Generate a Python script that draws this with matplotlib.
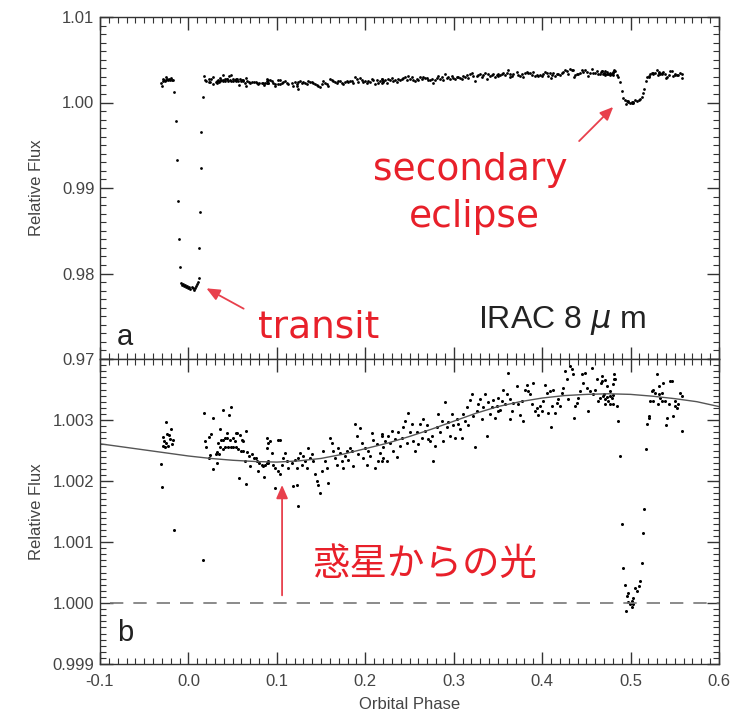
import matplotlib
matplotlib.use('Agg')
import matplotlib.pyplot as plt
from matplotlib.ticker import MultipleLocator, FixedLocator, FixedFormatter

plt.rcParams['font.family'] = ['Liberation Sans', 'DejaVu Sans']

# ---------------- data (orbital phase, relative flux) ----------------
pre_transit = [(-0.0310, 1.00228), (-0.0302, 1.00190), (-0.0290, 1.00272), (-0.0284, 1.00257),
               (-0.0275, 1.00265), (-0.0265, 1.00255), (-0.0257, 1.00297), (-0.0248, 1.00262),
               (-0.0239, 1.00277), (-0.0228, 1.00258), (-0.0218, 1.00275), (-0.0208, 1.00269),
               (-0.0200, 1.00286), (-0.0189, 1.00260), (-0.0178, 1.00267)]
ingress = [(-0.0163, 1.00120), (-0.0140, 0.99787), (-0.0132, 0.99327), (-0.0121, 0.98844),
           (-0.0110, 0.98400), (-0.0095, 0.98080)]
transit_floor = [(-0.0085, 0.9789), (-0.0073, 0.9787), (-0.0061, 0.9788), (-0.0049, 0.9785),
                 (-0.0037, 0.9786), (-0.0025, 0.9784), (-0.0013, 0.9785), (-0.0001, 0.9783),
                 (0.0011, 0.9784), (0.0023, 0.9782), (0.0035, 0.9784), (0.0047, 0.9783),
                 (0.0059, 0.9781), (0.0071, 0.9783), (0.0083, 0.9785), (0.0095, 0.9788),
                 (0.0107, 0.9790)]
egress = [(0.0118, 0.97944), (0.0124, 0.98295), (0.0130, 0.98723), (0.0137, 0.99230),
          (0.0145, 0.99651), (0.0160, 1.00070)]
after_transit = [(0.0177, 1.00312), (0.0282, 1.00304), (0.0388, 1.00316), (0.0482, 1.00321),
                 (0.0456, 1.00308), (0.0252, 1.00277), (0.0237, 1.00272), (0.0188, 1.00265),
                 (0.0199, 1.00255), (0.0245, 1.00243), (0.0230, 1.00237), (0.0275, 1.00219),
                 (0.0309, 1.00245), (0.0320, 1.00230), (0.0339, 1.00263), (0.0366, 1.00267),
                 (0.0388, 1.00268), (0.0414, 1.00270), (0.0441, 1.00271), (0.0471, 1.00268),
                 (0.0501, 1.00270), (0.0527, 1.00266), (0.0554, 1.00278), (0.0584, 1.00275),
                 (0.0603, 1.00267), (0.0622, 1.00265), (0.0648, 1.00282), (0.0358, 1.00255),
                 (0.0388, 1.00252), (0.0414, 1.00255), (0.0444, 1.00256), (0.0478, 1.00255),
                 (0.0508, 1.00256), (0.0539, 1.00255), (0.0565, 1.00252), (0.0592, 1.00250),
                 (0.0358, 1.00285), (0.0433, 1.00278), (0.0539, 1.00279), (0.0320, 1.00247),
                 (0.0350, 1.00244), (0.0622, 1.00249), (0.0641, 1.00233), (0.0667, 1.00247),
                 (0.0690, 1.00241), (0.0716, 1.00244), (0.0742, 1.00238), (0.0765, 1.00237),
                 (0.0780, 1.00233), (0.0803, 1.00230), (0.0829, 1.00227), (0.0848, 1.00225),
                 (0.0867, 1.00227), (0.0886, 1.00229), (0.0905, 1.00230), (0.0791, 1.00217),
                 (0.0697, 1.00225), (0.0576, 1.00205), (0.0652, 1.00195), (0.0855, 1.00207),
                 (0.0886, 1.00271), (0.0905, 1.00263)]
phase_010_022 = [(0.0924, 1.00265), (0.0886, 1.00254), (0.0942, 1.00246), (0.0905, 1.00233),
                 (0.0961, 1.00227), (0.0980, 1.00222), (0.1018, 1.00216), (0.1037, 1.00211),
                 (0.1056, 1.00227), (0.1074, 1.00238), (0.1093, 1.00246), (0.1037, 1.00268),
                 (0.1112, 1.00233), (0.1131, 1.00222), (0.1169, 1.00230), (0.1206, 1.00235),
                 (0.1225, 1.00222), (0.1244, 1.00238), (0.1263, 1.00246), (0.1282, 1.00227),
                 (0.1301, 1.00241), (0.1319, 1.00233), (0.1338, 1.00222), (0.1357, 1.00254),
                 (0.1376, 1.00238), (0.1395, 1.00244), (0.1414, 1.00233), (0.1433, 1.00211),
                 (0.1451, 1.00200), (0.1470, 1.00194), (0.1489, 1.00181), (0.1508, 1.00216),
                 (0.1527, 1.00249), (0.1546, 1.00233), (0.1565, 1.00222), (0.1583, 1.00197),
                 (0.1602, 1.00271), (0.1621, 1.00263), (0.1640, 1.00249), (0.1659, 1.00238),
                 (0.1678, 1.00227), (0.1696, 1.00254), (0.1715, 1.00246), (0.1734, 1.00233),
                 (0.1753, 1.00222), (0.1772, 1.00241), (0.1791, 1.00249), (0.1810, 1.00235),
                 (0.1828, 1.00254), (0.1847, 1.00249), (0.1866, 1.00224), (0.1885, 1.00293),
                 (0.1904, 1.00274), (0.1923, 1.00244), (0.1942, 1.00287), (0.1960, 1.00263),
                 (0.1979, 1.00238), (0.1998, 1.00254), (0.2017, 1.00227), (0.2036, 1.00249),
                 (0.2055, 1.00241), (0.2073, 1.00279), (0.2092, 1.00268), (0.2111, 1.00222),
                 (0.2130, 1.00260), (0.2149, 1.00233), (0.2168, 1.00246), (0.2187, 1.00274),
                 (0.2205, 1.00238), (0.0980, 1.00189), (0.1187, 1.00192), (0.1225, 1.00194),
                 (0.1236, 1.00159), (0.1018, 1.00268)]
phase_022_035 = [(0.2186, 1.00277), (0.2224, 1.00266), (0.2205, 1.00255), (0.2242, 1.00233),
                 (0.2186, 1.00233), (0.2261, 1.00274), (0.2280, 1.00263), (0.2299, 1.00282),
                 (0.2318, 1.00250), (0.2337, 1.00269), (0.2356, 1.00239), (0.2374, 1.00280),
                 (0.2393, 1.00258), (0.2412, 1.00271), (0.2431, 1.00288), (0.2450, 1.00299),
                 (0.2469, 1.00263), (0.2488, 1.00312), (0.2506, 1.00280), (0.2525, 1.00293),
                 (0.2544, 1.00266), (0.2563, 1.00250), (0.2582, 1.00280), (0.2601, 1.00261),
                 (0.2619, 1.00293), (0.2638, 1.00271), (0.2657, 1.00301), (0.2676, 1.00282),
                 (0.2695, 1.00291), (0.2714, 1.00269), (0.2733, 1.00266), (0.2751, 1.00274),
                 (0.2770, 1.00233), (0.2789, 1.00258), (0.2808, 1.00288), (0.2827, 1.00310),
                 (0.2846, 1.00280), (0.2864, 1.00299), (0.2883, 1.00266), (0.2902, 1.00329),
                 (0.2921, 1.00288), (0.2940, 1.00296), (0.2959, 1.00274), (0.2978, 1.00310),
                 (0.2996, 1.00291), (0.3015, 1.00271), (0.3034, 1.00301), (0.3053, 1.00293),
                 (0.3072, 1.00285), (0.3091, 1.00271), (0.3110, 1.00310), (0.3128, 1.00299),
                 (0.3147, 1.00321), (0.3166, 1.00291), (0.3185, 1.00332), (0.3204, 1.00342),
                 (0.3223, 1.00307), (0.3241, 1.00255), (0.3260, 1.00315), (0.3279, 1.00326),
                 (0.3298, 1.00334), (0.3317, 1.00301), (0.3336, 1.00321), (0.3355, 1.00342),
                 (0.3373, 1.00274), (0.3392, 1.00329), (0.3411, 1.00310), (0.3430, 1.00321),
                 (0.3449, 1.00332), (0.3468, 1.00304), (0.3487, 1.00323), (0.3505, 1.00315)]
phase_035_048 = [(0.3619, 1.00377), (0.3713, 1.00356), (0.3562, 1.00350), (0.3600, 1.00342),
                 (0.3506, 1.00336), (0.3543, 1.00331), (0.3581, 1.00326), (0.3638, 1.00334),
                 (0.3675, 1.00328), (0.3525, 1.00317), (0.3657, 1.00315), (0.3638, 1.00301),
                 (0.3732, 1.00326), (0.3751, 1.00309), (0.3770, 1.00331), (0.3789, 1.00298),
                 (0.3807, 1.00350), (0.3826, 1.00358), (0.3845, 1.00347), (0.3864, 1.00342),
                 (0.3883, 1.00326), (0.3902, 1.00361), (0.3920, 1.00315), (0.3939, 1.00320),
                 (0.3958, 1.00309), (0.3977, 1.00323), (0.3996, 1.00315), (0.4015, 1.00331),
                 (0.4034, 1.00358), (0.4052, 1.00345), (0.4071, 1.00312), (0.4090, 1.00347),
                 (0.4101, 1.00288), (0.4109, 1.00323), (0.4128, 1.00350), (0.4147, 1.00312),
                 (0.4165, 1.00328), (0.4184, 1.00334), (0.4203, 1.00323), (0.4222, 1.00345),
                 (0.4241, 1.00353), (0.4260, 1.00380), (0.4279, 1.00367), (0.4297, 1.00334),
                 (0.4316, 1.00388), (0.4335, 1.00383), (0.4354, 1.00375), (0.4365, 1.00304),
                 (0.4373, 1.00323), (0.4392, 1.00328), (0.4411, 1.00336), (0.4429, 1.00347),
                 (0.4448, 1.00375), (0.4467, 1.00361), (0.4486, 1.00377), (0.4505, 1.00353),
                 (0.4524, 1.00315), (0.4542, 1.00347), (0.4561, 1.00386), (0.4580, 1.00342),
                 (0.4599, 1.00350), (0.4618, 1.00367), (0.4637, 1.00331), (0.4656, 1.00336),
                 (0.4674, 1.00364), (0.4693, 1.00339), (0.4712, 1.00326), (0.4731, 1.00356),
                 (0.4750, 1.00331), (0.4769, 1.00347), (0.4788, 1.00336), (0.4806, 1.00326),
                 (0.4818, 1.00367)]
eclipse_and_after = [(0.4675, 1.00372), (0.4713, 1.00365), (0.4664, 1.00361), (0.4807, 1.00375),
                     (0.4826, 1.00367), (0.4799, 1.00359), (0.4694, 1.00342), (0.4731, 1.00338),
                     (0.4769, 1.00339), (0.4799, 1.00341), (0.4713, 1.00334), (0.4762, 1.00326),
                     (0.4845, 1.00323), (0.4863, 1.00299), (0.4882, 1.00241), (0.4901, 1.00129),
                     (0.4912, 1.00057), (0.4939, 1.00030), (0.4958, 1.00012), (0.4976, 1.00001),
                     (0.4995, 0.99998), (0.5014, 1.00003), (0.5033, 1.00009), (0.5052, 1.00025),
                     (0.5071, 1.00020), (0.5090, 1.00028), (0.5108, 1.00036), (0.4950, 0.99987),
                     (0.5014, 0.99993), (0.4976, 1.00017), (0.5033, 0.99998), (0.5127, 1.00066),
                     (0.5146, 1.00114), (0.5157, 1.00154), (0.5176, 1.00252), (0.5184, 1.00293),
                     (0.5203, 1.00306), (0.5214, 1.00304), (0.5222, 1.00331), (0.5240, 1.00347),
                     (0.5259, 1.00350), (0.5278, 1.00345), (0.5297, 1.00375), (0.5316, 1.00342),
                     (0.5335, 1.00336), (0.5354, 1.00345), (0.5372, 1.00361), (0.5391, 1.00331),
                     (0.5410, 1.00304), (0.5429, 1.00326), (0.5448, 1.00364), (0.5467, 1.00364),
                     (0.5485, 1.00306), (0.5504, 1.00323), (0.5523, 1.00320), (0.5542, 1.00326),
                     (0.5561, 1.00345), (0.5580, 1.00339), (0.5580, 1.00282), (0.5399, 1.00292),
                     (0.5259, 1.00331), (0.5305, 1.00326), (0.5354, 1.00331), (0.5504, 1.00331),
                     (0.5327, 1.00356)]

# phase-curve model (solid line in panel b)
model_phase = [-0.100, -0.075, -0.050, -0.025, 0.000, 0.025, 0.050, 0.075, 0.100, 0.125,
               0.150, 0.175, 0.200, 0.225, 0.250, 0.275, 0.300, 0.325, 0.350, 0.375,
               0.400, 0.425, 0.450, 0.475, 0.500, 0.525, 0.550, 0.575, 0.600]
model_flux = [1.00261, 1.00256, 1.00251, 1.00246, 1.00241, 1.00237, 1.00234, 1.00232, 1.00231,
              1.00233, 1.00237, 1.00244, 1.00253, 1.00262, 1.00273, 1.00285, 1.00298, 1.00311,
              1.00322, 1.00330, 1.00336, 1.00340, 1.00342, 1.00343, 1.00342, 1.00339, 1.00335,
              1.00330, 1.00322]

x_ticks = [-0.1, 0.0, 0.1, 0.2, 0.3, 0.4, 0.5, 0.6]
x_labels = ['-0.1', '0.0', '0.1', '0.2', '0.3', '0.4', '0.5', '0.6']
top_yticks = [0.97, 0.98, 0.99, 1.00, 1.01]
top_ylabels = ['0.97', '0.98', '0.99', '1.00', '1.01']
bot_yticks = [0.999, 1.000, 1.001, 1.002, 1.003, 1.004]
bot_ylabels = ['0.999', '1.000', '1.001', '1.002', '1.003', '']

segments = [pre_transit, ingress, transit_floor, egress, after_transit,
            phase_010_022, phase_022_035, phase_035_048, eclipse_and_after]
phase = [p for seg in segments for p, f in seg]
flux = [f for seg in segments for p, f in seg]

RED = '#e8202a'
ARROW = '#e8404c'

fig = plt.figure(figsize=(7.33, 7.14), dpi=100)
ax1 = fig.add_axes([100/733, 1-359/714, 619/733, 342/714])
ax2 = fig.add_axes([100/733, 1-664/714, 619/733, 305/714])


def style(ax):
    ax.set_xlim(-0.1, 0.6)
    ax.xaxis.set_major_locator(FixedLocator(x_ticks))
    ax.xaxis.set_minor_locator(MultipleLocator(0.01))
    ax.tick_params(which='both', direction='in', top=True, right=True,
                   color='#333333', labelcolor='#444444', labelsize=12)
    ax.tick_params(which='major', length=9, width=1.0)
    ax.tick_params(which='minor', length=4, width=0.8)
    ax.tick_params(axis='y', pad=4)
    ax.tick_params(axis='x', pad=7)
    for s in ax.spines.values():
        s.set_color('#333333')
        s.set_linewidth(1.0)


style(ax1)
style(ax2)

# panel a
ax1.plot(phase, flux, 'o', ms=2.0, mew=0, color='k')
ax1.set_ylim(0.97, 1.01)
ax1.yaxis.set_major_locator(FixedLocator(top_yticks))
ax1.yaxis.set_major_formatter(FixedFormatter(top_ylabels))
ax1.yaxis.set_minor_locator(MultipleLocator(0.001))
ax1.tick_params(axis='x', labelbottom=False)
ax1.set_ylabel('Relative Flux', fontsize=12, color='#444444')
ax1.yaxis.set_label_coords(-0.090, 0.5)

ax1.text(0.3186, 0.99094, 'secondary', color=RED, fontsize=27, ha='center', va='baseline',
         family='DejaVu Sans')
ax1.text(0.3230, 0.98544, 'eclipse', color=RED, fontsize=27, ha='center', va='baseline',
         family='DejaVu Sans')
ax1.text(0.1477, 0.97257, 'transit', color=RED, fontsize=27, ha='center', va='baseline',
         family='DejaVu Sans')
ax1.text(0.3276, 0.97363, 'IRAC 8 $\\mu$ m', color='#222222', fontsize=23, ha='left',
         va='baseline')
ax1.text(-0.0808, 0.97164, 'a', color='#222222', fontsize=21, ha='left', va='baseline')
ax1.annotate('', xy=(0.4826, 0.99971), xytext=(0.4396, 0.99526),
             arrowprops=dict(arrowstyle='-|>,head_length=0.8,head_width=0.35', color=ARROW, lw=1.3))
ax1.annotate('', xy=(0.0176, 0.97842), xytext=(0.0652, 0.97573),
             arrowprops=dict(arrowstyle='-|>,head_length=0.8,head_width=0.35', color=ARROW, lw=1.3))

# panel b
ax2.plot(phase, flux, 'o', ms=2.2, mew=0, color='k')
ax2.plot(model_phase, model_flux, '-', color='#555555', lw=1.0)
ax2.axhline(1.0, color='#777777', lw=1.2, linestyle=(8, (8, 6)))
ax2.set_ylim(0.999, 1.004)
ax2.yaxis.set_major_locator(FixedLocator(bot_yticks))
ax2.yaxis.set_major_formatter(FixedFormatter(bot_ylabels))
ax2.yaxis.set_minor_locator(MultipleLocator(0.0001))
ax2.xaxis.set_major_formatter(FixedFormatter(x_labels))
ax2.set_ylabel('Relative Flux', fontsize=12, color='#444444')
ax2.yaxis.set_label_coords(-0.090, 0.5)
ax2.set_xlabel('Orbital Phase', fontsize=12, color='#444444')
ax2.xaxis.set_label_coords(0.5, -0.108)

ax2.text(0.2676, 1.00064, '惑星からの光', color=RED, fontsize=27, ha='center', va='center',
         family=['Noto Sans CJK JP', 'DejaVu Sans'])
ax2.text(-0.0808, 0.99938, 'b', color='#222222', fontsize=21, ha='left', va='baseline')
ax2.annotate('', xy=(0.1059, 1.00198), xytext=(0.1059, 1.00008),
             arrowprops=dict(arrowstyle='-|>,head_length=0.8,head_width=0.35', color=ARROW, lw=1.3))

fig.savefig('out.png', dpi=100)
